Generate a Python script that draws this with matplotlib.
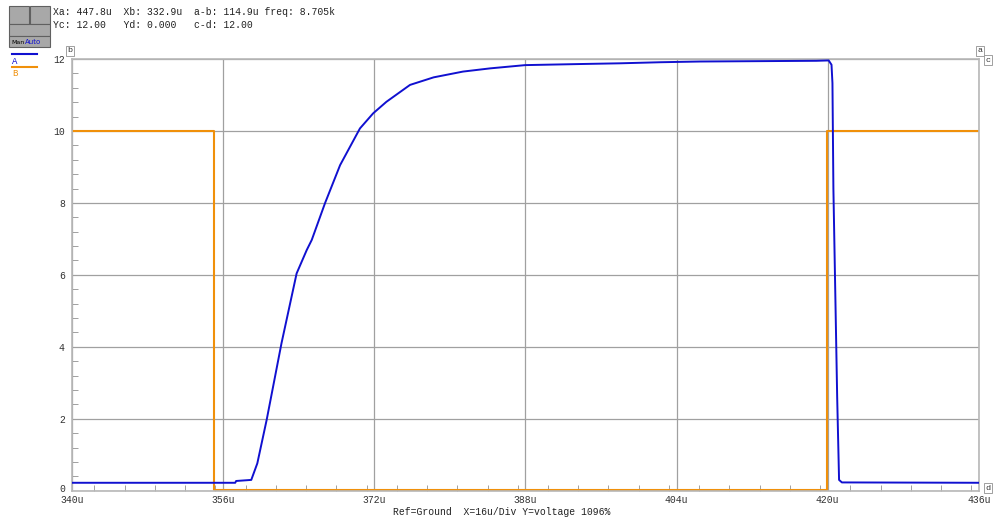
import matplotlib.pyplot as plt
import matplotlib.transforms as mtransforms
from matplotlib.ticker import MultipleLocator
from matplotlib.patches import Rectangle

# trace A (blue), time in us, voltage
a_t = [340, 357.3, 357.4, 359.0, 359.64, 360.63, 362.2, 363.8, 364.87, 365.4, 366.8, 368.4,
       370.5, 371.9, 373.3, 375.8, 378.3, 381.4, 384.3, 388.0, 393.8, 398.0, 402.3, 406.5,
       418.8, 420.1, 420.4, 420.5, 420.6, 421.0, 421.2, 421.5, 436]
a_v = [0.22, 0.22, 0.27, 0.30, 0.76, 1.97, 4.1, 6.04, 6.69, 6.97, 7.99, 9.05,
       10.07, 10.49, 10.81, 11.28, 11.49, 11.65, 11.74, 11.83, 11.86, 11.88, 11.91, 11.93,
       11.95, 11.96, 11.84, 11.33, 8.4, 2.6, 0.3, 0.23, 0.22]

# trace B (orange)
b_t = [340, 355.1, 355.1, 419.9, 419.9, 436]
b_v = [10, 10, 0.03, 0.03, 10, 10]

xticks = [340, 356, 372, 388, 404, 420, 436]
yticks = [0, 2, 4, 6, 8, 10, 12]

mono = 'Liberation Mono'

fig = plt.figure(figsize=(10.03, 5.31), dpi=100)
ax = fig.add_axes([0.0715, 0.0759, 0.9045, 0.8130])

ax.plot(a_t, a_v, color='#1010d0', lw=1.4, zorder=3)
ax.plot(b_t, b_v, color='#f0900a', lw=1.5, zorder=2)

ax.set_xlim(340, 436)
ax.set_ylim(0, 12)
ax.set_xticks(xticks)
ax.set_xticklabels([str(x) + 'u' for x in xticks], fontfamily=mono, fontsize=7)
ax.set_yticks(yticks)
ax.set_yticklabels([str(y) for y in yticks], fontfamily=mono, fontsize=7)
ax.xaxis.set_minor_locator(MultipleLocator(3.2))
ax.yaxis.set_minor_locator(MultipleLocator(0.4))
ax.tick_params(which='both', direction='in', color='#909090', length=4,
               labelcolor='#333333')
ax.tick_params(which='major', length=0)
ax.tick_params(axis='x', which='major', pad=3)
ax.tick_params(axis='y', which='major', pad=5)
ax.grid(True, which='major', color='#a0a0a0', lw=0.9)
for s in ax.spines.values():
    s.set_color('#b8b8b8')
    s.set_linewidth(1.2)

# nudge the "0" label up so it clears "340u"
lab0 = ax.get_yticklabels()[0]
lab0.set_transform(lab0.get_transform() +
                   mtransforms.ScaledTranslation(0, 3 / 100, fig.dpi_scale_trans))

# header readout
fig.text(53 / 1003, 1 - 12 / 531, 'Xa: 447.8u  Xb: 332.9u  a-b: 114.9u freq: 8.705k',
         fontfamily=mono, fontsize=7, va='center', color='#222222')
fig.text(53 / 1003, 1 - 25 / 531, 'Yc: 12.00   Yd: 0.000   c-d: 12.00',
         fontfamily=mono, fontsize=7, va='center', color='#222222')

# toolbar buttons
for (x, y, w, h) in [(9, 6, 20, 18), (30, 6, 20, 18), (9, 24, 41, 12), (9, 36, 41, 11)]:
    fig.patches.append(Rectangle((x / 1003, 1 - (y + h) / 531), w / 1003, h / 531,
                                 transform=fig.transFigure, facecolor='#a8a8a8',
                                 edgecolor='#606060', lw=0.8))
fig.text(11 / 1003, 1 - 42 / 531, 'Man', fontsize=4.5, color='black', va='center')
fig.text(25 / 1003, 1 - 42 / 531, 'Auto', fontsize=5, color='#1010d0', va='center')

# legend
fig.add_artist(plt.Line2D([12 / 1003, 37 / 1003], [1 - 54 / 531, 1 - 54 / 531],
                          color='#1010d0', lw=1.5, transform=fig.transFigure))
fig.text(12 / 1003, 1 - 61 / 531, 'A', fontfamily=mono, fontsize=6.5, color='#1010d0', va='center')
fig.add_artist(plt.Line2D([12 / 1003, 37 / 1003], [1 - 67 / 531, 1 - 67 / 531],
                          color='#f0900a', lw=1.5, transform=fig.transFigure))
fig.text(12 / 1003, 1 - 74 / 531, 'B', fontfamily=mono, fontsize=6.5, color='#f0900a', va='center')

# cursor markers
box = dict(boxstyle='square,pad=0.15', fc='white', ec='#909090', lw=0.6)
for (x, y, s) in [(70, 51, 'b'), (980, 51, 'a'), (988, 60, 'c'), (988, 488, 'd')]:
    fig.text(x / 1003, 1 - y / 531, s, fontfamily=mono, fontsize=6, ha='center',
             va='center', bbox=box, color='#333333')

fig.text(0.5, 1 - 512 / 531, 'Ref=Ground  X=16u/Div Y=voltage 1096%',
         fontfamily=mono, fontsize=7, ha='center', va='center', color='#222222')

fig.savefig('out.png', dpi=100)
